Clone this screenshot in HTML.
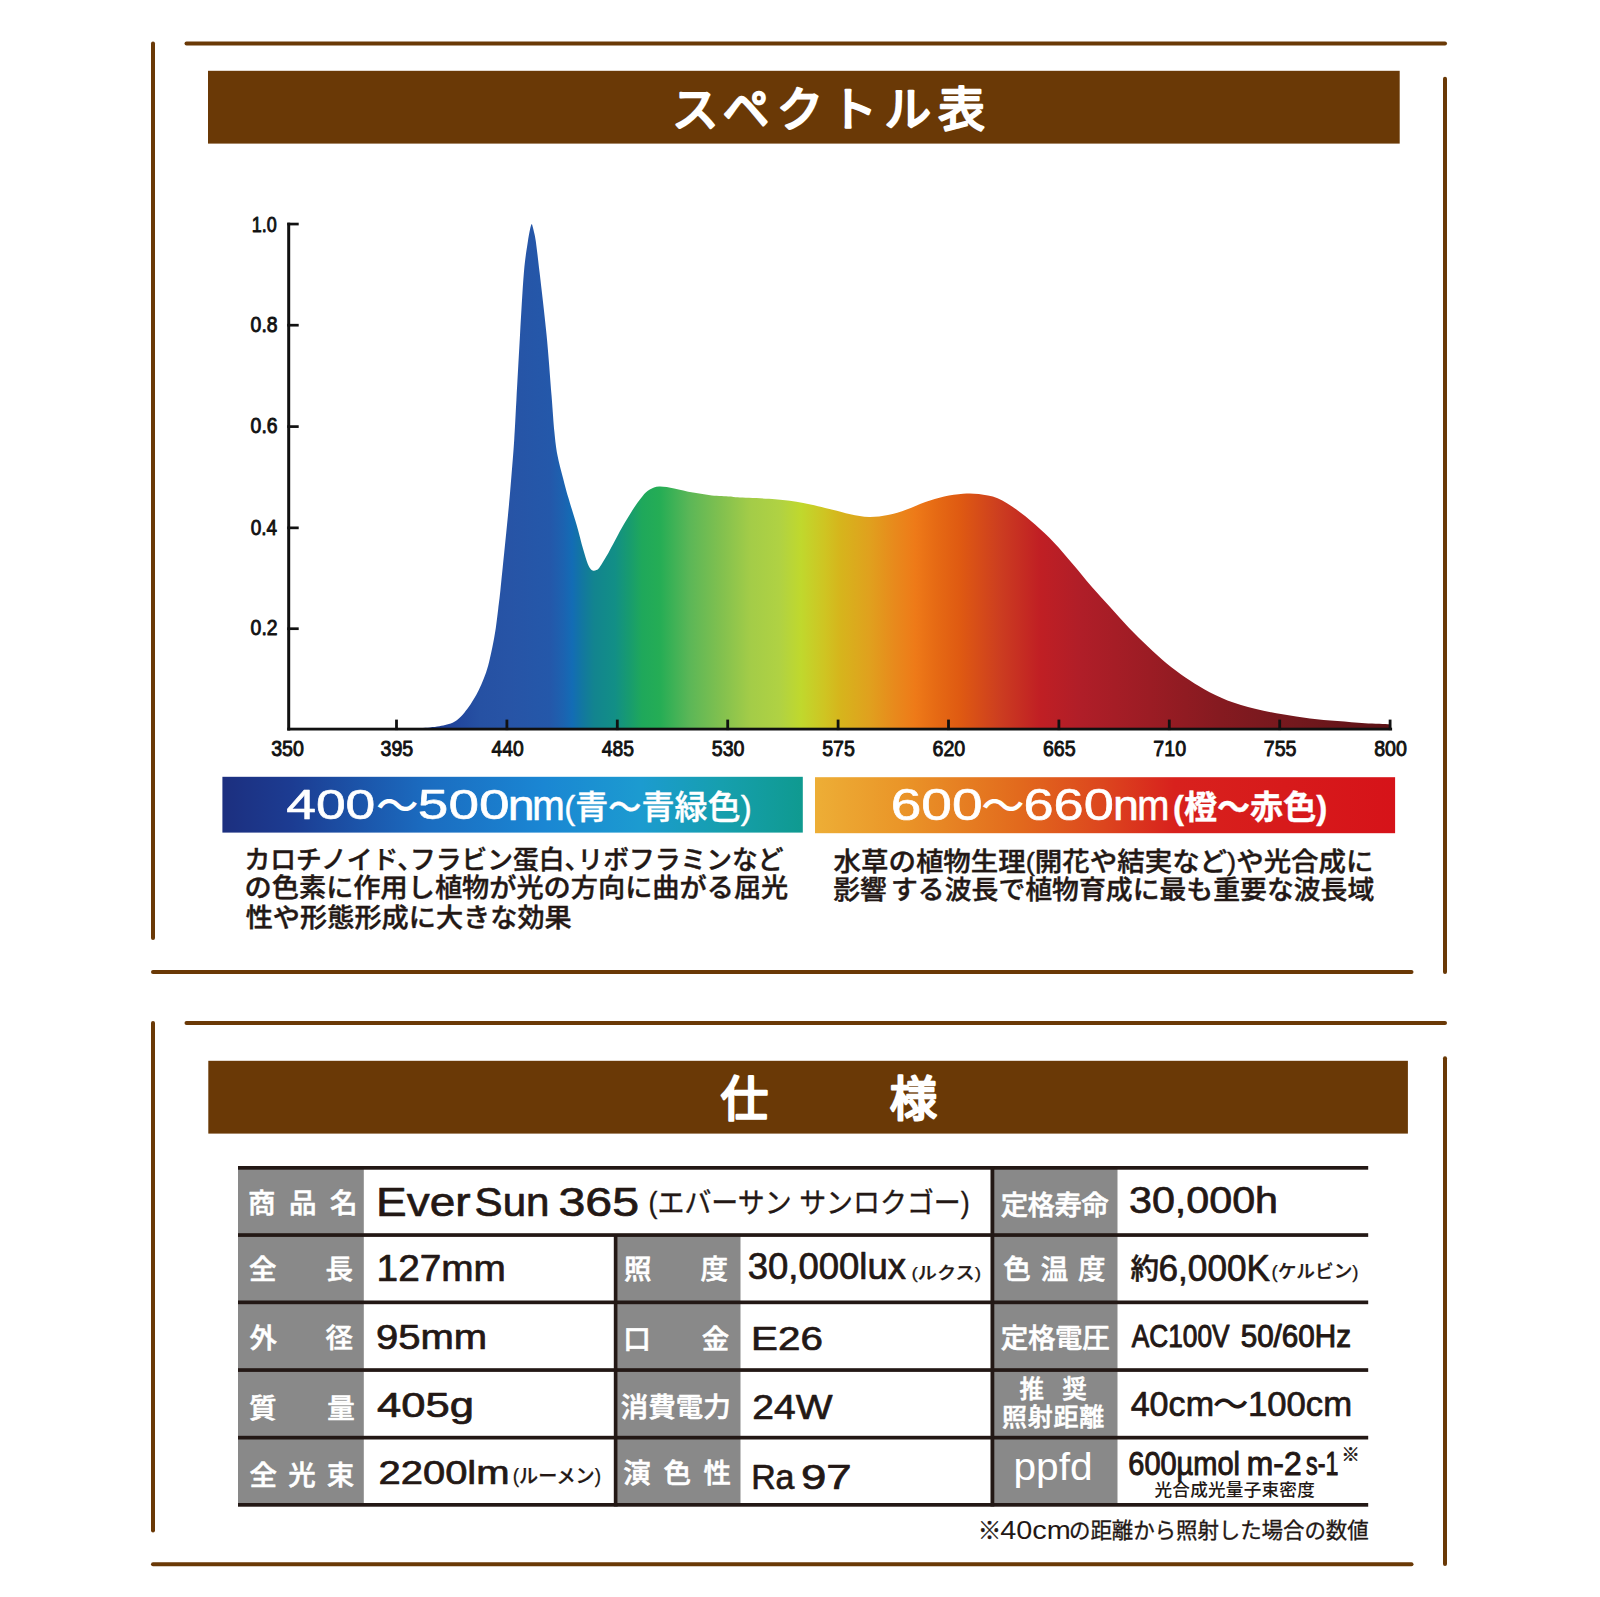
<!DOCTYPE html>
<html lang="ja"><head><meta charset="utf-8"><title>スペクトル表・仕様</title>
<style>
html,body{margin:0;padding:0;background:#fff}
body{width:1600px;height:1597px;overflow:hidden}
svg{display:block}
text{white-space:pre;stroke-linejoin:round;stroke-linecap:round}
.j{font-family:"Liberation Sans","Noto Sans CJK JP",sans-serif}
.k{font-family:"Liberation Sans","Noto Sans CJK JP",sans-serif}
.l{font-family:"Liberation Sans",sans-serif}
#p1a{font-feature-settings:"halt" 1}
</style></head><body>
<svg width="1600" height="1597" viewBox="0 0 1600 1597">
<defs>
<linearGradient id="sp" gradientUnits="userSpaceOnUse" x1="404" y1="0" x2="1390" y2="0">
<stop offset="0.0000" stop-color="#1c3990"/>
<stop offset="0.0365" stop-color="#1e3f98"/>
<stop offset="0.0771" stop-color="#2651a3"/>
<stop offset="0.1075" stop-color="#2754a6"/>
<stop offset="0.1481" stop-color="#2458aa"/>
<stop offset="0.1613" stop-color="#1c62b0"/>
<stop offset="0.1704" stop-color="#136cb5"/>
<stop offset="0.1815" stop-color="#12789f"/>
<stop offset="0.1927" stop-color="#12848f"/>
<stop offset="0.2140" stop-color="#128f86"/>
<stop offset="0.2292" stop-color="#189c6e"/>
<stop offset="0.2414" stop-color="#1fa85b"/>
<stop offset="0.2596" stop-color="#25ad55"/>
<stop offset="0.2901" stop-color="#5cb757"/>
<stop offset="0.3205" stop-color="#80c04f"/>
<stop offset="0.3509" stop-color="#a3cc48"/>
<stop offset="0.3813" stop-color="#b0d243"/>
<stop offset="0.4026" stop-color="#c0d82d"/>
<stop offset="0.4270" stop-color="#cfc422"/>
<stop offset="0.4422" stop-color="#d6b51c"/>
<stop offset="0.4726" stop-color="#e0a01e"/>
<stop offset="0.4970" stop-color="#e88a1c"/>
<stop offset="0.5183" stop-color="#ee7a18"/>
<stop offset="0.5396" stop-color="#e66a14"/>
<stop offset="0.5639" stop-color="#df5a12"/>
<stop offset="0.6045" stop-color="#cc3d20"/>
<stop offset="0.6450" stop-color="#c01f24"/>
<stop offset="0.6856" stop-color="#b01e28"/>
<stop offset="0.7566" stop-color="#9b1c24"/>
<stop offset="0.8276" stop-color="#851a20"/>
<stop offset="0.9087" stop-color="#72181d"/>
<stop offset="1.0000" stop-color="#5c1216"/>
</linearGradient>
<linearGradient id="gb" x1="0" y1="0" x2="1" y2="0">
<stop offset="0" stop-color="#1c2f7f"/>
<stop offset="0.12" stop-color="#1c3c92"/>
<stop offset="0.35" stop-color="#1b6cc0"/>
<stop offset="0.55" stop-color="#1a86d3"/>
<stop offset="0.72" stop-color="#1c9bd0"/>
<stop offset="0.86" stop-color="#169fae"/>
<stop offset="1" stop-color="#0f9a90"/>
</linearGradient>
<linearGradient id="go" x1="0" y1="0" x2="1" y2="0">
<stop offset="0" stop-color="#edae36"/>
<stop offset="0.15" stop-color="#ea9528"/>
<stop offset="0.35" stop-color="#e26a1d"/>
<stop offset="0.5" stop-color="#dc451e"/>
<stop offset="0.62" stop-color="#d8211d"/>
<stop offset="1" stop-color="#d61319"/>
</linearGradient>
</defs>
<rect x="0.00" y="0.00" width="1600.00" height="1597.00" fill="#fff"/>
<g id="frame1">
<line x1="186.50" y1="43.40" x2="1445.00" y2="43.40" stroke="#6a3906" stroke-width="4" stroke-linecap="round"/>
<line x1="153.00" y1="43.40" x2="153.00" y2="938.00" stroke="#6a3906" stroke-width="4" stroke-linecap="round"/>
<line x1="1445.00" y1="78.70" x2="1445.00" y2="972.00" stroke="#6a3906" stroke-width="4" stroke-linecap="round"/>
<line x1="153.00" y1="972.00" x2="1411.50" y2="972.00" stroke="#6a3906" stroke-width="4" stroke-linecap="round"/>
</g>
<g id="frame2">
<line x1="186.50" y1="1023.10" x2="1445.00" y2="1023.10" stroke="#6a3906" stroke-width="4" stroke-linecap="round"/>
<line x1="153.00" y1="1023.10" x2="153.00" y2="1530.60" stroke="#6a3906" stroke-width="4" stroke-linecap="round"/>
<line x1="1445.00" y1="1058.30" x2="1445.00" y2="1564.00" stroke="#6a3906" stroke-width="4" stroke-linecap="round"/>
<line x1="153.00" y1="1564.30" x2="1411.50" y2="1564.30" stroke="#6a3906" stroke-width="4" stroke-linecap="round"/>
</g>
<rect x="208.00" y="70.80" width="1191.70" height="72.80" fill="#6a3906"/>
<rect x="208.30" y="1060.80" width="1199.60" height="72.80" fill="#6a3906"/>
<g id="chart">
<path d="M404.0 728.6C406.7 728.5 415.7 728.2 420.0 728.0C424.3 727.8 426.8 727.7 430.0 727.4C433.2 727.1 436.6 726.8 439.4 726.3C442.2 725.8 444.5 725.4 447.0 724.6C449.5 723.9 452.1 723.1 454.4 721.8C456.7 720.4 458.8 718.7 461.0 716.5C463.2 714.3 465.5 711.4 467.6 708.6C469.7 705.8 471.6 702.6 473.5 699.5C475.4 696.4 477.1 693.4 478.8 689.9C480.5 686.4 482.2 682.6 483.8 678.5C485.4 674.4 486.8 670.5 488.2 665.4C489.6 660.3 490.9 654.2 492.2 648.0C493.5 641.8 494.8 634.4 495.8 627.9C496.8 621.4 497.4 615.3 498.2 609.0C499.0 602.7 499.4 599.7 500.4 590.3C501.4 580.9 502.9 565.2 504.2 552.7C505.5 540.2 506.8 527.5 508.0 515.0C509.2 502.5 510.3 490.1 511.3 477.6C512.3 465.1 513.4 452.9 514.2 440.0C515.1 427.1 515.4 417.5 516.4 400.0C517.4 382.5 518.8 356.2 520.0 335.0C521.2 313.8 522.6 288.2 523.9 272.6C525.2 257.0 526.8 248.7 527.9 241.3C529.0 233.9 529.9 230.2 530.3 228.0L531.3 224.2L532.1 224.4L533.3 229.0C533.7 231.1 534.8 234.0 535.8 241.3C536.8 248.6 537.8 257.0 539.6 272.6C541.4 288.2 544.6 314.8 546.6 335.2C548.6 355.6 550.2 378.9 551.5 395.0C552.8 411.1 553.4 422.0 554.4 432.0C555.4 442.0 556.0 447.3 557.4 455.0C558.8 462.7 561.2 470.9 563.0 478.0C564.8 485.1 566.0 489.8 568.3 497.5C570.5 505.2 574.0 515.9 576.5 524.5C579.0 533.1 581.2 542.5 583.1 549.0C585.0 555.5 586.4 560.2 587.6 563.5C588.9 566.8 589.6 567.8 590.6 569.0C591.6 570.2 592.4 570.6 593.4 570.8C594.4 571.0 595.4 570.6 596.4 570.0C597.4 569.4 597.6 570.1 599.6 567.2C601.6 564.3 604.8 559.2 608.5 552.7C612.2 546.2 617.5 535.5 621.6 528.3C625.7 521.1 629.5 514.8 632.9 509.5C636.3 504.2 639.5 499.7 642.3 496.4C645.1 493.1 647.0 491.2 649.8 489.6C652.6 488.0 655.1 486.8 659.2 486.6C663.3 486.4 668.6 487.5 674.2 488.5C679.8 489.5 686.7 491.5 693.0 492.6C699.3 493.8 705.6 494.8 711.8 495.4C718.0 496.0 725.7 496.1 730.0 496.4C734.3 496.7 730.1 496.8 737.6 497.3C745.1 497.8 764.2 498.3 775.1 499.2C786.0 500.1 793.9 501.2 803.3 502.9C812.7 504.6 823.7 507.6 831.5 509.5C839.3 511.4 844.0 513.0 850.3 514.2C856.6 515.5 862.8 516.9 869.1 517.0C875.4 517.1 881.6 516.4 887.9 515.1C894.2 513.9 900.5 511.7 906.7 509.5C913.0 507.3 919.1 504.2 925.4 502.0C931.6 499.8 937.9 497.8 944.2 496.4C950.5 495.0 957.2 494.2 963.0 493.8C968.8 493.4 973.0 493.4 978.8 494.1C984.6 494.9 991.3 495.7 997.6 498.3C1003.9 500.9 1010.1 505.1 1016.4 509.5C1022.6 513.9 1028.8 519.0 1035.1 524.5C1041.3 530.0 1047.6 535.8 1053.9 542.4C1060.2 549.0 1066.4 556.6 1072.7 564.0C1079.0 571.4 1085.2 579.3 1091.5 586.5C1097.8 593.7 1104.0 600.3 1110.3 607.2C1116.6 614.1 1122.8 621.3 1129.1 627.9C1135.4 634.5 1141.6 640.6 1147.9 646.6C1154.2 652.6 1160.5 658.4 1166.7 663.6C1173.0 668.8 1179.2 673.3 1185.4 677.6C1191.7 681.9 1197.2 685.5 1204.2 689.3C1211.2 693.1 1219.0 697.2 1227.5 700.5C1236.0 703.8 1245.8 706.5 1255.0 708.8C1264.2 711.1 1273.3 712.7 1282.5 714.3C1291.7 715.9 1300.8 717.3 1310.0 718.4C1319.2 719.5 1328.3 720.3 1337.5 721.1C1346.7 721.9 1356.2 722.7 1365.0 723.2C1373.8 723.7 1385.8 724.0 1390.0 724.2L1390 729.5L404 729.5Z" fill="url(#sp)"/>
<rect x="287.20" y="222.70" width="3.00" height="507.80" fill="#111"/>
<rect x="287.30" y="727.70" width="1104.80" height="2.80" fill="#111"/>
<rect x="287.30" y="222.70" width="11.40" height="2.70" fill="#111"/>
<rect x="287.30" y="323.85" width="11.40" height="2.70" fill="#111"/>
<rect x="287.30" y="425.25" width="11.40" height="2.70" fill="#111"/>
<rect x="287.30" y="526.50" width="11.40" height="2.70" fill="#111"/>
<rect x="287.30" y="627.35" width="11.40" height="2.70" fill="#111"/>
<rect x="395.10" y="719.60" width="2.80" height="10.50" fill="#111"/>
<rect x="505.50" y="719.60" width="2.80" height="10.50" fill="#111"/>
<rect x="615.90" y="719.60" width="2.80" height="10.50" fill="#111"/>
<rect x="726.30" y="719.60" width="2.80" height="10.50" fill="#111"/>
<rect x="836.70" y="719.60" width="2.80" height="10.50" fill="#111"/>
<rect x="947.10" y="719.60" width="2.80" height="10.50" fill="#111"/>
<rect x="1057.50" y="719.60" width="2.80" height="10.50" fill="#111"/>
<rect x="1167.90" y="719.60" width="2.80" height="10.50" fill="#111"/>
<rect x="1278.30" y="719.60" width="2.80" height="10.50" fill="#111"/>
<rect x="1388.70" y="719.60" width="2.80" height="10.50" fill="#111"/>
</g>
<rect x="222.40" y="776.80" width="580.40" height="55.80" fill="url(#gb)"/>
<rect x="815.00" y="777.20" width="580.10" height="56.00" fill="url(#go)"/>
<g id="spec">
<rect x="238.00" y="1166.00" width="125.80" height="340.00" fill="#898989"/>
<rect x="617.40" y="1234.00" width="123.10" height="272.00" fill="#898989"/>
<rect x="994.00" y="1166.00" width="123.50" height="340.00" fill="#898989"/>
<rect x="238.00" y="1166.00" width="1130.20" height="3.70" fill="#231815"/>
<rect x="238.00" y="1233.20" width="1130.20" height="3.70" fill="#231815"/>
<rect x="238.00" y="1300.50" width="1130.20" height="3.70" fill="#231815"/>
<rect x="238.00" y="1368.20" width="1130.20" height="3.70" fill="#231815"/>
<rect x="238.00" y="1435.80" width="1130.20" height="3.70" fill="#231815"/>
<rect x="238.00" y="1503.00" width="1130.20" height="3.70" fill="#231815"/>
<rect x="613.80" y="1234.00" width="3.80" height="272.50" fill="#231815"/>
<rect x="990.50" y="1166.00" width="3.80" height="340.50" fill="#231815"/>
</g>
<g id="t-title1">
<text id="L-ttl1"><tspan id="ttl1" class="k" x="672.10" y="126.30" font-size="46.52" fill="#fff" stroke="#fff" stroke-width="2.5" textLength="312.80" lengthAdjust="spacing">スペクトル表</tspan></text>
</g>
<g id="t-title2">
<text id="L-ttl2"><tspan id="ttl2" class="k" x="720.80" y="1116.00" font-size="47.39" fill="#fff" stroke="#fff" stroke-width="2.5" textLength="216.20" lengthAdjust="spacing">仕様</tspan></text>
</g>
<g id="t-chart">
<text id="L-yl0"><tspan id="yl0" class="l" x="251.67" y="232.25" font-size="21.30" fill="#111" stroke="#111" stroke-width="0.9" textLength="24.96" lengthAdjust="spacingAndGlyphs">1.0</tspan></text>
<text id="L-yl1"><tspan id="yl1" class="l" x="250.61" y="331.95" font-size="21.30" fill="#111" stroke="#111" stroke-width="0.9" textLength="26.93" lengthAdjust="spacingAndGlyphs">0.8</tspan></text>
<text id="L-yl2"><tspan id="yl2" class="l" x="250.61" y="433.35" font-size="21.30" fill="#111" stroke="#111" stroke-width="0.9" textLength="26.93" lengthAdjust="spacingAndGlyphs">0.6</tspan></text>
<text id="L-yl3"><tspan id="yl3" class="l" x="250.64" y="534.60" font-size="21.30" fill="#111" stroke="#111" stroke-width="0.9" textLength="26.40" lengthAdjust="spacingAndGlyphs">0.4</tspan></text>
<text id="L-yl4"><tspan id="yl4" class="l" x="250.61" y="635.45" font-size="21.30" fill="#111" stroke="#111" stroke-width="0.9" textLength="26.93" lengthAdjust="spacingAndGlyphs">0.2</tspan></text>
<text id="L-xl0"><tspan id="xl0" class="l" x="271.15" y="756.00" font-size="21.40" fill="#111" stroke="#111" stroke-width="0.9" textLength="32.70" lengthAdjust="spacingAndGlyphs">350</tspan></text>
<text id="L-xl1"><tspan id="xl1" class="l" x="380.53" y="756.00" font-size="21.40" fill="#111" stroke="#111" stroke-width="0.9" textLength="32.73" lengthAdjust="spacingAndGlyphs">395</tspan></text>
<text id="L-xl2"><tspan id="xl2" class="l" x="491.45" y="756.00" font-size="21.40" fill="#111" stroke="#111" stroke-width="0.9" textLength="32.22" lengthAdjust="spacingAndGlyphs">440</tspan></text>
<text id="L-xl3"><tspan id="xl3" class="l" x="601.82" y="756.00" font-size="21.40" fill="#111" stroke="#111" stroke-width="0.9" textLength="32.22" lengthAdjust="spacingAndGlyphs">485</tspan></text>
<text id="L-xl4"><tspan id="xl4" class="l" x="711.75" y="756.00" font-size="21.40" fill="#111" stroke="#111" stroke-width="0.9" textLength="32.71" lengthAdjust="spacingAndGlyphs">530</tspan></text>
<text id="L-xl5"><tspan id="xl5" class="l" x="822.14" y="756.00" font-size="21.40" fill="#111" stroke="#111" stroke-width="0.9" textLength="32.72" lengthAdjust="spacingAndGlyphs">575</tspan></text>
<text id="L-xl6"><tspan id="xl6" class="l" x="932.52" y="756.00" font-size="21.40" fill="#111" stroke="#111" stroke-width="0.9" textLength="32.75" lengthAdjust="spacingAndGlyphs">620</tspan></text>
<text id="L-xl7"><tspan id="xl7" class="l" x="1042.94" y="756.00" font-size="21.40" fill="#111" stroke="#111" stroke-width="0.9" textLength="32.75" lengthAdjust="spacingAndGlyphs">665</tspan></text>
<text id="L-xl8"><tspan id="xl8" class="l" x="1153.31" y="756.00" font-size="21.40" fill="#111" stroke="#111" stroke-width="0.9" textLength="32.78" lengthAdjust="spacingAndGlyphs">710</tspan></text>
<text id="L-xl9"><tspan id="xl9" class="l" x="1263.74" y="756.00" font-size="21.40" fill="#111" stroke="#111" stroke-width="0.9" textLength="32.73" lengthAdjust="spacingAndGlyphs">755</tspan></text>
<text id="L-xl10"><tspan id="xl10" class="l" x="1374.14" y="756.00" font-size="21.40" fill="#111" stroke="#111" stroke-width="0.9" textLength="32.69" lengthAdjust="spacingAndGlyphs">800</tspan></text>
</g>
<g id="t-bands">
<text id="L-band1"><tspan id="b1a" class="l" x="286.17" y="819.30" font-size="43.41" fill="#fff" stroke="#fff" stroke-width="0.6" textLength="89.17" lengthAdjust="spacingAndGlyphs">400</tspan><tspan id="b1b" class="k" x="376.12" y="821.25" font-size="42.00" font-weight="500" fill="#fff" textLength="42.48" lengthAdjust="spacingAndGlyphs">～</tspan><tspan id="b1c" class="l" x="417.81" y="819.30" font-size="43.41" fill="#fff" stroke="#fff" stroke-width="0.6" textLength="91.76" lengthAdjust="spacingAndGlyphs">500</tspan><tspan id="b1d" class="l" x="507.82" y="819.50" font-size="42.70" fill="#fff" stroke="#fff" stroke-width="0.6" textLength="26.82" lengthAdjust="spacingAndGlyphs">n</tspan><tspan id="b1f" class="l" x="532.30" y="819.50" font-size="42.70" fill="#fff" stroke="#fff" stroke-width="0.6" textLength="32.42" lengthAdjust="spacingAndGlyphs">m</tspan><tspan id="b1e" class="j" x="564.27" y="818.90" font-size="33.50" font-weight="500" fill="#fff" stroke="#fff" stroke-width="0.4" textLength="187.45" lengthAdjust="spacingAndGlyphs">(青～青緑色)</tspan></text>
<text id="L-band2"><tspan id="b2a" class="l" x="890.78" y="820.10" font-size="43.47" fill="#fff" stroke="#fff" stroke-width="0.6" textLength="91.80" lengthAdjust="spacingAndGlyphs">600</tspan><tspan id="b2b" class="k" x="981.37" y="821.25" font-size="42.00" font-weight="500" fill="#fff" textLength="43.26" lengthAdjust="spacingAndGlyphs">～</tspan><tspan id="b2c" class="l" x="1023.50" y="820.10" font-size="43.47" fill="#fff" stroke="#fff" stroke-width="0.6" textLength="90.28" lengthAdjust="spacingAndGlyphs">660</tspan><tspan id="b2d" class="l" x="1112.98" y="819.90" font-size="42.70" fill="#fff" stroke="#fff" stroke-width="0.6" textLength="25.92" lengthAdjust="spacingAndGlyphs">n</tspan><tspan id="b2f" class="l" x="1137.30" y="819.90" font-size="42.70" fill="#fff" stroke="#fff" stroke-width="0.6" textLength="32.11" lengthAdjust="spacingAndGlyphs">m</tspan><tspan id="b2e" class="j" x="1172.97" y="819.20" font-size="33.50" font-weight="700" fill="#fff" stroke="#fff" stroke-width="0.4" textLength="154.27" lengthAdjust="spacingAndGlyphs">(橙～赤色)</tspan></text>
</g>
<g id="t-desc">
<text id="L-p1a"><tspan id="p1a" class="k" x="244.40" y="869.05" font-size="25.60" font-weight="500" fill="#231815" stroke="#231815" stroke-width="0.4" textLength="539.20" lengthAdjust="spacingAndGlyphs">カロチノイド、フラビン蛋白、リボフラミンなど</tspan></text>
<text id="L-p1b"><tspan id="p1b" class="k" x="244.60" y="897.45" font-size="25.60" font-weight="500" fill="#231815" stroke="#231815" stroke-width="0.4" textLength="543.71" lengthAdjust="spacingAndGlyphs">の色素に作用し植物が光の方向に曲がる屈光</tspan></text>
<text id="L-p1c"><tspan id="p1c" class="k" x="245.70" y="927.10" font-size="25.60" font-weight="500" fill="#231815" stroke="#231815" stroke-width="0.4" textLength="326.10" lengthAdjust="spacingAndGlyphs">性や形態形成に大きな効果</tspan></text>
<text id="L-p2a"><tspan id="p2a" class="j" x="833.50" y="870.50" font-size="25.60" font-weight="500" fill="#231815" stroke="#231815" stroke-width="0.4" textLength="540.00" lengthAdjust="spacingAndGlyphs">水草の植物生理(開花や結実など)や光合成に</tspan></text>
<text id="L-p2l2"><tspan id="p2b" class="k" x="833.26" y="899.30" font-size="25.60" font-weight="500" fill="#231815" stroke="#231815" stroke-width="0.4" textLength="53.49" lengthAdjust="spacingAndGlyphs">影響</tspan><tspan id="p2c" class="k" x="890.99" y="899.30" font-size="25.60" font-weight="500" fill="#231815" stroke="#231815" stroke-width="0.4" textLength="483.32" lengthAdjust="spacingAndGlyphs">する波長で植物育成に最も重要な波長域</tspan></text>
</g>
<g id="t-spec">
<text id="L-h11"><tspan id="h11" class="k" x="248.00" y="1212.50" font-size="27.50" font-weight="500" fill="#fff" stroke="#fff" stroke-width="0.55" textLength="109.50" lengthAdjust="spacing">商品名</tspan></text>
<text id="L-h12"><tspan id="h12" class="k" x="249.00" y="1278.80" font-size="27.50" font-weight="500" fill="#fff" stroke="#fff" stroke-width="0.55" textLength="104.00" lengthAdjust="spacing">全長</tspan></text>
<text id="L-h13"><tspan id="h13" class="k" x="249.50" y="1348.00" font-size="27.50" font-weight="500" fill="#fff" stroke="#fff" stroke-width="0.55" textLength="103.50" lengthAdjust="spacing">外径</tspan></text>
<text id="L-h14"><tspan id="h14" class="k" x="249.00" y="1417.50" font-size="27.50" font-weight="500" fill="#fff" stroke="#fff" stroke-width="0.55" textLength="105.80" lengthAdjust="spacing">質量</tspan></text>
<text id="L-h15"><tspan id="h15" class="k" x="249.50" y="1484.50" font-size="27.50" font-weight="500" fill="#fff" stroke="#fff" stroke-width="0.55" textLength="104.80" lengthAdjust="spacing">全光束</tspan></text>
<text id="L-h22"><tspan id="h22" class="k" x="624.00" y="1278.80" font-size="27.50" font-weight="500" fill="#fff" stroke="#fff" stroke-width="0.55" textLength="104.00" lengthAdjust="spacing">照度</tspan></text>
<text id="L-h23"><tspan id="h23" class="k" x="623.20" y="1348.80" font-size="27.50" font-weight="500" fill="#fff" stroke="#fff" stroke-width="0.55" textLength="106.10" lengthAdjust="spacing">口金</tspan></text>
<text id="L-h24"><tspan id="h24" class="k" x="620.70" y="1417.25" font-size="27.50" font-weight="500" fill="#fff" stroke="#fff" stroke-width="0.55" textLength="110.10" lengthAdjust="spacing">消費電力</tspan></text>
<text id="L-h25"><tspan id="h25" class="k" x="623.30" y="1482.50" font-size="27.50" font-weight="500" fill="#fff" stroke="#fff" stroke-width="0.55" textLength="107.70" lengthAdjust="spacing">演色性</tspan></text>
<text id="L-h31"><tspan id="h31" class="k" x="1000.70" y="1215.00" font-size="27.50" font-weight="500" fill="#fff" stroke="#fff" stroke-width="0.55" textLength="108.10" lengthAdjust="spacing">定格寿命</tspan></text>
<text id="L-h32"><tspan id="h32" class="k" x="1003.30" y="1278.80" font-size="27.50" font-weight="500" fill="#fff" stroke="#fff" stroke-width="0.55" textLength="102.20" lengthAdjust="spacing">色温度</tspan></text>
<text id="L-h33"><tspan id="h33" class="k" x="1000.70" y="1348.00" font-size="27.50" font-weight="500" fill="#fff" stroke="#fff" stroke-width="0.55" textLength="109.10" lengthAdjust="spacing">定格電圧</tspan></text>
<text id="L-h34a"><tspan id="h34a" class="k" x="1019.50" y="1397.75" font-size="24.50" font-weight="500" fill="#fff" stroke="#fff" stroke-width="0.55" textLength="67.20" lengthAdjust="spacing">推奨</tspan></text>
<text id="L-h34b"><tspan id="h34b" class="k" x="1002.00" y="1426.30" font-size="25.00" font-weight="500" fill="#fff" stroke="#fff" stroke-width="0.55" textLength="102.30" lengthAdjust="spacing">照射距離</tspan></text>
<text id="L-h35"><tspan id="h35" class="l" x="1013.51" y="1479.60" font-size="38.00" fill="#fff" textLength="79.17" lengthAdjust="spacingAndGlyphs">ppfd</tspan></text>
<text id="L-v11"><tspan id="v11a" class="l" x="376.05" y="1215.60" font-size="40.08" fill="#231815" stroke="#231815" stroke-width="0.7" textLength="94.47" lengthAdjust="spacingAndGlyphs">Ever</tspan> <tspan id="v11b" class="l" x="474.64" y="1215.80" font-size="40.80" fill="#231815" stroke="#231815" stroke-width="0.7" textLength="74.91" lengthAdjust="spacingAndGlyphs">Sun</tspan> <tspan id="v11c" class="l" x="558.44" y="1215.80" font-size="40.81" fill="#231815" stroke="#231815" stroke-width="0.7" textLength="80.62" lengthAdjust="spacingAndGlyphs">365</tspan> <tspan id="v11d" class="j" x="648.49" y="1213.20" font-size="28.80" fill="#231815" stroke="#231815" stroke-width="0.35" textLength="321.33" lengthAdjust="spacingAndGlyphs"><tspan class="l">(</tspan>エバーサン サンロクゴー<tspan class="l">)</tspan></tspan></text>
<text id="L-v12"><tspan id="v12" class="l" x="376.59" y="1280.80" font-size="36.09" fill="#231815" stroke="#231815" stroke-width="0.7" textLength="129.31" lengthAdjust="spacingAndGlyphs">127mm</tspan></text>
<text id="L-v13"><tspan id="v13" class="l" x="375.95" y="1348.80" font-size="34.40" fill="#231815" stroke="#231815" stroke-width="0.7" textLength="111.14" lengthAdjust="spacingAndGlyphs">95mm</tspan></text>
<text id="L-v14"><tspan id="v14" class="l" x="376.98" y="1417.30" font-size="35.00" fill="#231815" stroke="#231815" stroke-width="0.7" textLength="96.91" lengthAdjust="spacingAndGlyphs">405g</tspan></text>
<text id="L-v15"><tspan id="v15a" class="l" x="378.46" y="1483.50" font-size="33.75" fill="#231815" stroke="#231815" stroke-width="0.7" textLength="131.10" lengthAdjust="spacingAndGlyphs">2200lm</tspan> <tspan id="v15b" class="j" x="512.75" y="1483.00" font-size="19.70" font-weight="500" fill="#231815" stroke="#231815" stroke-width="0.25" textLength="88.28" lengthAdjust="spacingAndGlyphs"><tspan class="l">(</tspan>ルーメン<tspan class="l">)</tspan></tspan></text>
<text id="L-v22"><tspan id="v22a" class="l" x="747.78" y="1279.40" font-size="36.00" fill="#231815" stroke="#231815" stroke-width="0.7" textLength="158.22" lengthAdjust="spacingAndGlyphs">30,000lux</tspan> <tspan id="v22b" class="j" x="911.47" y="1279.00" font-size="17.29" font-weight="500" fill="#231815" stroke="#231815" stroke-width="0.25" textLength="69.56" lengthAdjust="spacingAndGlyphs"><tspan class="l">(</tspan>ルクス<tspan class="l">)</tspan></tspan></text>
<text id="L-v23"><tspan id="v23" class="l" x="751.11" y="1350.30" font-size="33.91" fill="#231815" stroke="#231815" stroke-width="0.7" textLength="71.80" lengthAdjust="spacingAndGlyphs">E26</tspan></text>
<text id="L-v24"><tspan id="v24" class="l" x="752.24" y="1418.80" font-size="35.01" fill="#231815" stroke="#231815" stroke-width="0.7" textLength="80.26" lengthAdjust="spacingAndGlyphs">24W</tspan></text>
<text id="L-v25"><tspan id="v25a" class="l" x="751.15" y="1488.50" font-size="35.49" fill="#231815" stroke="#231815" stroke-width="0.7" textLength="43.35" lengthAdjust="spacingAndGlyphs">Ra</tspan> <tspan id="v25b" class="l" x="800.90" y="1488.50" font-size="34.76" fill="#231815" stroke="#231815" stroke-width="0.7" textLength="50.74" lengthAdjust="spacingAndGlyphs">97</tspan></text>
<text id="L-v31"><tspan id="v31" class="l" x="1128.98" y="1212.90" font-size="37.20" fill="#231815" stroke="#231815" stroke-width="0.7" textLength="149.08" lengthAdjust="spacingAndGlyphs">30,000h</tspan></text>
<text id="L-v32"><tspan id="v32a" class="k" x="1130.50" y="1279.00" font-size="28.61" font-weight="500" fill="#231815" stroke="#231815" stroke-width="0.5">約</tspan><tspan id="v32b" class="l" x="1158.48" y="1280.90" font-size="36.00" fill="#231815" stroke="#231815" stroke-width="0.7" textLength="111.52" lengthAdjust="spacingAndGlyphs">6,000K</tspan><tspan id="v32c" class="j" x="1271.48" y="1277.80" font-size="18.13" font-weight="500" fill="#231815" stroke="#231815" stroke-width="0.25" textLength="87.05" lengthAdjust="spacingAndGlyphs"><tspan class="l">(</tspan>ケルビン<tspan class="l">)</tspan></tspan></text>
<text id="L-v33"><tspan id="v33a" class="l" x="1131.68" y="1346.70" font-size="32.00" fill="#231815" stroke="#231815" stroke-width="1.0" textLength="97.85" lengthAdjust="spacingAndGlyphs">AC100V</tspan> <tspan id="v33b" class="l" x="1240.67" y="1346.70" font-size="32.00" fill="#231815" stroke="#231815" stroke-width="1.0" textLength="110.36" lengthAdjust="spacingAndGlyphs">50/60Hz</tspan></text>
<text id="L-v34"><tspan id="v34a" class="l" x="1130.67" y="1415.80" font-size="34.72" fill="#231815" stroke="#231815" stroke-width="0.7" textLength="83.40" lengthAdjust="spacingAndGlyphs">40cm</tspan><tspan id="v34b" class="k" x="1212.85" y="1417.00" font-size="35.00" font-weight="500" fill="#231815" textLength="35.81" lengthAdjust="spacingAndGlyphs">～</tspan><tspan id="v34c" class="l" x="1247.89" y="1415.80" font-size="34.72" fill="#231815" stroke="#231815" stroke-width="0.7" textLength="104.19" lengthAdjust="spacingAndGlyphs">100cm</tspan></text>
<text id="L-v35"><tspan id="v35a" class="l" x="1128.28" y="1474.70" font-size="33.70" fill="#231815" stroke="#231815" stroke-width="1.0" textLength="111.74" lengthAdjust="spacingAndGlyphs">600µmol</tspan> <tspan id="v35b" class="l" x="1246.82" y="1474.70" font-size="33.70" fill="#231815" stroke="#231815" stroke-width="1.0" textLength="54.80" lengthAdjust="spacingAndGlyphs">m-2</tspan> <tspan id="v35c" class="l" x="1306.01" y="1474.70" font-size="33.70" fill="#231815" stroke="#231815" stroke-width="1.0" textLength="32.40" lengthAdjust="spacingAndGlyphs">s-1</tspan><tspan id="v35d" class="k" x="1341.50" y="1460.50" font-size="18.18" font-weight="700" fill="#231815" stroke="#231815" stroke-width="0.5">※</tspan></text>
<text id="L-v35e"><tspan id="v35e" class="k" x="1154.50" y="1496.00" font-size="17.60" font-weight="500" fill="#231815" textLength="160.30" lengthAdjust="spacing">光合成光量子束密度</tspan></text>
<text id="L-foot"><tspan id="f1" class="k" x="977.80" y="1539.00" font-size="23.58" font-weight="500" fill="#231815" stroke="#231815" stroke-width="0.3">※</tspan><tspan id="f2" class="l" x="1000.26" y="1539.30" font-size="25.09" fill="#231815" textLength="70.51" lengthAdjust="spacingAndGlyphs">40cm</tspan><tspan id="f3" class="k" x="1069.00" y="1538.15" font-size="21.50" fill="#231815" stroke="#231815" stroke-width="0.3" textLength="299.70" lengthAdjust="spacing">の距離から照射した場合の数値</tspan></text>
</g>
</svg>
</body></html>
